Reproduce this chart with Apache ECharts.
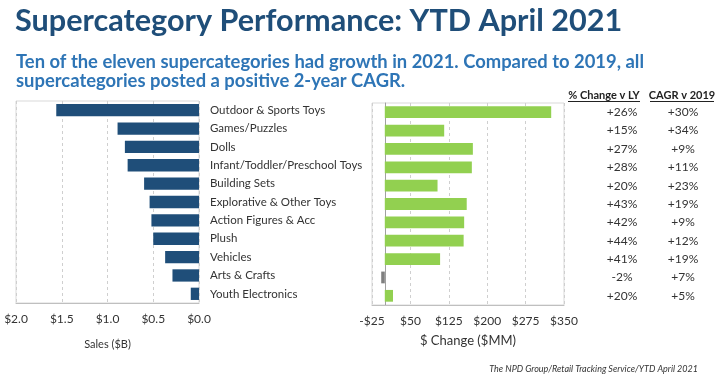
<!DOCTYPE html>
<html><head><meta charset="utf-8">
<script src="https://cdn.jsdelivr.net/npm/echarts@6/dist/echarts.min.js"></script>
<style>html,body{margin:0;padding:0;background:#fff}#c{width:728px;height:378px}</style>
</head><body><div id="c"></div>
<script>
const categories = ['Outdoor & Sports Toys','Games/Puzzles','Dolls','Infant/Toddler/Preschool Toys','Building Sets','Explorative & Other Toys','Action Figures & Acc','Plush','Vehicles','Arts & Crafts','Youth Electronics'];
const salesB = [1.56, 0.89, 0.81, 0.78, 0.60, 0.54, 0.52, 0.50, 0.37, 0.29, 0.09];
const changeMM = [325, 116, 172, 170, 103, 160, 155, 154, 108, -7, 16];
const pctChangeLY = ['+26%','+15%','+27%','+28%','+20%','+43%','+42%','+44%','+41%','-2%','+20%'];
const cagr2019 = ['+30%','+34%','+9%','+11%','+23%','+19%','+9%','+12%','+19%','+7%','+5%'];
const salesTicks = [0, 0.5, 1.0, 1.5, 2.0];
const changeTicks = [-25, 50, 125, 200, 275, 350];

const FONT = 'Lato';
const chart = echarts.init(document.getElementById('c'), null, {renderer:'canvas'});
const gridLine = {show:true, lineStyle:{color:'#cfcfcf', type:[3,3], width:1}};
const option = {
  animation:false,
  textStyle:{fontFamily:FONT},
  grid:[
    {left:16, right:529, top:101, bottom:75, show:true, borderColor:'#d9d9d9', borderWidth:1, containLabel:false, outerBoundsMode:'none'},
    {left:372, right:164, top:103, bottom:73, show:true, borderColor:'#d9d9d9', borderWidth:1, containLabel:false, outerBoundsMode:'none'}
  ],
  xAxis:[
    {gridIndex:0, type:'value', inverse:true, min:salesTicks[0], max:salesTicks[salesTicks.length-1], interval:0.5,
     axisLine:{show:true, onZero:false, lineStyle:{color:'#bfbfbf'}}, axisTick:{show:false},
     splitLine:gridLine,
     axisLabel:{color:'#333', fontSize:12, margin:10, fontFamily:FONT, formatter:v=>'$'+v.toFixed(1)},
     name:'Sales ($B)', nameLocation:'middle', nameGap:36, nameTextStyle:{color:'#333', fontSize:11, fontFamily:FONT}},
    {gridIndex:1, type:'value', min:changeTicks[0], max:changeTicks[changeTicks.length-1], interval:75,
     axisLine:{show:true, onZero:false, lineStyle:{color:'#bfbfbf'}}, axisTick:{show:false},
     splitLine:gridLine,
     axisLabel:{color:'#333', fontSize:12, margin:10, fontFamily:FONT, formatter:v=>(v<0?'-$'+Math.abs(v):'$'+v)},
     name:'$ Change ($MM)', nameLocation:'middle', nameGap:29, nameTextStyle:{color:'#333', fontSize:13, fontFamily:FONT}}
  ],
  yAxis:[
    {gridIndex:0, type:'category', data:categories, inverse:true, position:'right',
     axisLine:{show:false}, axisTick:{show:false}, splitLine:{show:false},
     axisLabel:{color:'#333', fontSize:11.5, margin:11, fontFamily:FONT, align:'left'}},
    {gridIndex:1, type:'category', data:categories, inverse:true,
     axisLine:{show:true, onZero:true, lineStyle:{color:'#a0a0a0'}}, axisTick:{show:false}, axisLabel:{show:false}, splitLine:{show:false}},
    {gridIndex:1, type:'category', data:pctChangeLY, inverse:true, position:'right', offset:58,
     axisLine:{show:false}, axisTick:{show:false}, splitLine:{show:false},
     axisLabel:{color:'#333', fontSize:12, margin:0, align:'center', fontFamily:FONT}},
    {gridIndex:1, type:'category', data:cagr2019, inverse:true, position:'right', offset:119,
     axisLine:{show:false}, axisTick:{show:false}, splitLine:{show:false},
     axisLabel:{color:'#333', fontSize:12, margin:0, align:'center', fontFamily:FONT}}
  ],
  series:[
    {type:'bar', xAxisIndex:0, yAxisIndex:0, data:salesB, barCategoryGap:'33%', itemStyle:{color:'#1f4e79'}},
    {type:'bar', xAxisIndex:1, yAxisIndex:1, data:changeMM, barCategoryGap:'36%',
     itemStyle:{color:p=>p.value<0?'#7f7f7f':'#92d050'}}
  ],
  graphic:[
    {type:'text', left:15, top:6, style:{text:'Supercategory Performance: YTD April 2021', fill:'#1f4e79', font:'bold 30.6px '+FONT}},
    {type:'text', left:16, top:53, style:{text:'Ten of the eleven supercategories had growth in 2021. Compared to 2019, all\nsupercategories posted a positive 2-year CAGR.', fill:'#2e75b6', font:'bold 18.4px '+FONT, lineHeight:19}},
    {type:'text', x:604, y:95, style:{text:'% Change v LY', fill:'#222', font:'bold 11px '+FONT, align:'center', verticalAlign:'middle'}},
    {type:'line', shape:{x1:568, y1:101.5, x2:640, y2:101.5}, style:{stroke:'#222', lineWidth:1}},
    {type:'text', x:682, y:95, style:{text:'CAGR v 2019', fill:'#222', font:'bold 11px '+FONT, align:'center', verticalAlign:'middle'}},
    {type:'line', shape:{x1:650, y1:101.5, x2:714, y2:101.5}, style:{stroke:'#222', lineWidth:1}},
    {type:'text', x:698, y:369, style:{text:'The NPD Group/Retail Tracking Service/YTD April 2021', fill:'#333', font:'italic 9px '+FONT, align:'right', verticalAlign:'middle'}}
  ]
};
chart.setOption(option);
</script></body></html>
